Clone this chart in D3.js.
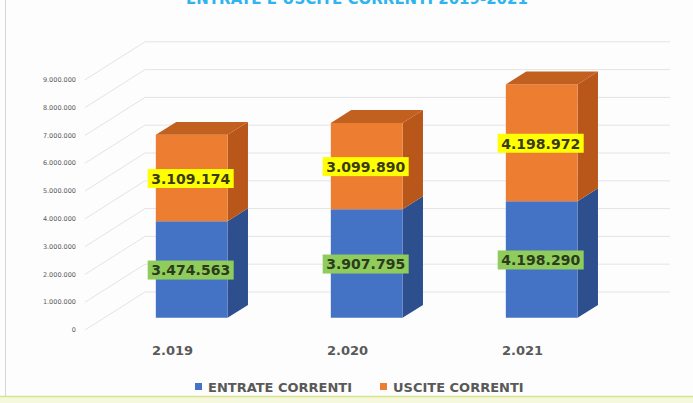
<!DOCTYPE html>
<html>
<head>
<meta charset="utf-8">
<script src="https://cdn.jsdelivr.net/npm/d3@7"></script>
<style>
body { margin: 0; background: #fff; }
svg text { font-family: "DejaVu Sans", sans-serif; }
</style>
</head>
<body>
<script>
// data
var years = ["2.019", "2.020", "2.021"];
var entrate = [3474563, 3907795, 4198290];
var uscite = [3109174, 3099890, 4198972];
var seriesNames = ["ENTRATE CORRENTI", "USCITE CORRENTI"];
var yTicks = [0, 1000000, 2000000, 3000000, 4000000, 5000000, 6000000, 7000000, 8000000, 9000000];
var title = "ENTRATE E USCITE CORRENTI 2019-2021";

var w = 693, h = 403;
var depth = [60, -38];      // oblique depth vector of the 3d box
var t0 = 0.32, t1 = 0.66;   // bar depth span
var wallRight = 670;

var it = d3.formatLocale({decimal: ",", thousands: ".", grouping: [3], currency: ["€", ""]});
var fmt = it.format(",");

var rows = years.map(function(y, i) { return {year: y, e: entrate[i], u: uscite[i]}; });
var stack = d3.stack().keys(["e", "u"])(rows);

var svg = d3.select("body").append("svg")
  .attr("width", w)
  .attr("height", h);

svg.append("rect").attr("width", w).attr("height", h).attr("fill", "#fdfdfd");

// frame bits
svg.append("line").attr("x1", 5.5).attr("x2", 5.5).attr("y1", 0).attr("y2", 396)
  .attr("stroke", "#d4d4d4");
svg.append("rect").attr("x", 0).attr("y", 396).attr("width", w).attr("height", 7)
  .attr("fill", "#f5f8dc");
svg.append("line").attr("x1", 0).attr("x2", w).attr("y1", 396.5).attr("y2", 396.5)
  .attr("stroke", "#d8e490").attr("stroke-width", 1.5);

svg.append("text")
  .attr("x", 357).attr("y", 4)
  .attr("text-anchor", "middle")
  .attr("font-size", 15).attr("font-weight", "bold")
  .attr("fill", "#2fb4ef")
  .text(title);

var x = d3.scaleBand()
  .domain(years)
  .range([85, 610])
  .paddingInner(0.59)
  .paddingOuter(0.295);

var y = d3.scaleLinear()
  .domain([0, 9000000])
  .range([330, 79.8]);

// grid: floor diagonals + back wall
var grid = svg.append("g").attr("stroke", "#e4e4e4").attr("fill", "none");
grid.selectAll("path")
  .data(yTicks)
  .join("path")
  .attr("d", function(d) {
    var y0 = y(d);
    return "M85," + y0 + "L" + (85 + depth[0]) + "," + (y0 + depth[1]) + "H" + wallRight;
  });

svg.append("g")
  .selectAll("text")
  .data(yTicks)
  .join("text")
  .attr("x", 76)
  .attr("y", function(d) { return y(d); })
  .attr("dy", "0.35em")
  .attr("text-anchor", "end")
  .attr("font-size", 6.5)
  .attr("fill", "#595959")
  .text(function(d) { return fmt(d); });

var faceCol = {e: "#4472c4", u: "#ed7d31"};
var sideCol = {e: "#2d4f8e", u: "#b9571a"};
var topCol = {e: "#3a62a8", u: "#c2601f"};

function pt(px, py, t) { return [px + depth[0] * t, py + depth[1] * t]; }
function poly(p) { return "M" + p.map(function(a) { return a[0] + "," + a[1]; }).join("L") + "Z"; }

var bw = x.bandwidth();
var bars = svg.append("g");

stack.forEach(function(s) {
  s.forEach(function(d) {
    var xl = x(d.data.year), xr = xl + bw;
    var yb = y(d[0]), yt = y(d[1]);
    var g = bars.append("g");
    // side
    g.append("path")
      .attr("d", poly([pt(xr, yb, t0), pt(xr, yb, t1), pt(xr, yt, t1), pt(xr, yt, t0)]))
      .attr("fill", sideCol[s.key]);
    // front
    g.append("path")
      .attr("d", poly([pt(xl, yb, t0), pt(xr, yb, t0), pt(xr, yt, t0), pt(xl, yt, t0)]))
      .attr("fill", faceCol[s.key]);
    if (s.key === "u") {
      g.append("path")
        .attr("d", poly([pt(xl, yt, t0), pt(xr, yt, t0), pt(xr, yt, t1), pt(xl, yt, t1)]))
        .attr("fill", topCol[s.key]);
    }
  });
});

// value labels
var labels = svg.append("g");
stack.forEach(function(s) {
  s.forEach(function(d) {
    var c = pt(x(d.data.year) + bw / 2, (y(d[0]) + y(d[1])) / 2, t0);
    var g = labels.append("g").attr("transform", "translate(" + (c[0] - 1) + "," + (c[1] + 1) + ")");
    g.append("rect")
      .attr("x", -43).attr("y", -10)
      .attr("width", 86).attr("height", 19)
      .attr("fill", s.key === "u" ? "#ffff00" : "#8fcc5c");
    g.append("text")
      .attr("text-anchor", "middle")
      .attr("dy", "0.35em")
      .attr("font-size", 14).attr("font-weight", "bold")
      .attr("fill", s.key === "u" ? "#3a3a14" : "#2b3b1c")
      .text(fmt(d[1] - d[0]));
  });
});

// category axis
svg.append("g")
  .selectAll("text")
  .data(years)
  .join("text")
  .attr("x", function(d) { return x(d) + bw / 2; })
  .attr("y", 355)
  .attr("text-anchor", "middle")
  .attr("font-size", 13).attr("font-weight", "bold")
  .attr("fill", "#595959")
  .text(function(d) { return d; });

// legend
var legX = [195, 380];
var leg = svg.append("g")
  .selectAll("g")
  .data(seriesNames)
  .join("g")
  .attr("transform", function(d, i) { return "translate(" + legX[i] + ",0)"; });
leg.append("rect")
  .attr("y", 383).attr("width", 7).attr("height", 7)
  .attr("fill", function(d, i) { return i === 0 ? faceCol.e : faceCol.u; });
leg.append("text")
  .attr("x", 13).attr("y", 392)
  .attr("font-size", 13).attr("font-weight", "bold")
  .attr("fill", "#595959")
  .text(function(d) { return d; });
</script>
</body>
</html>
